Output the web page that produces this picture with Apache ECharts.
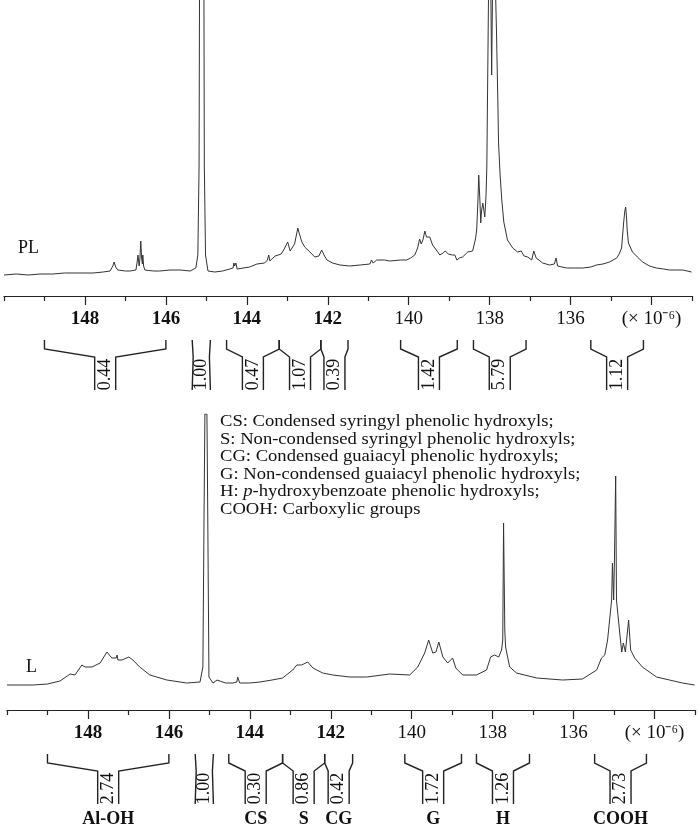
<!DOCTYPE html>
<html><head><meta charset="utf-8">
<script src="https://cdn.jsdelivr.net/npm/echarts@6/dist/echarts.min.js"></script>
<style>html,body{margin:0;padding:0;background:#fff}#c{width:700px;height:833px}</style>
</head><body><div id="c"></div>
<script>
// ---- data (chemical shift in ppm, intensity in arbitrary units) ----
const topSpectrum = [
[150.00,21],[149.70,22],[149.40,21],[149.11,22],[148.80,22],[148.50,23],[148.12,23],[147.80,23],[147.55,24],
[147.38,25],[147.31,30],[147.28,34],[147.24,29],[147.19,26],[147.00,25],[146.89,25],[146.74,26],[146.71,34],
[146.69,41],[146.66,30],[146.64,38],[146.62,55],[146.60,38],[146.58,32],[146.57,41],[146.55,30],[146.52,26],
[146.30,25],[146.15,25],[145.90,26],[145.65,26],[145.40,25],[145.26,28],[145.21,41],[145.18,130],[145.11,1200],
[145.05,130],[145.02,41],[144.96,25],[144.79,24],[144.60,25],[144.42,27],[144.34,28],[144.32,33],[144.30,30],
[144.27,33],[144.24,27],[144.20,26],[143.93,29],[143.75,32],[143.56,33],[143.49,36],[143.46,41],[143.43,35],
[143.38,37],[143.30,40],[143.26,39],[143.15,42],[143.09,46],[142.99,54],[142.93,45],[142.89,43],[142.82,52],
[142.77,62],[142.74,68],[142.70,62],[142.64,54],[142.57,49],[142.44,44],[142.32,39],[142.22,40],[142.15,46],
[142.12,48],[142.08,40],[142.02,36],[141.88,33],[141.70,31],[141.46,30],[141.20,31],[140.96,32],[140.92,36],
[140.88,33],[140.79,36],[140.60,36],[140.47,35],[140.20,36],[140.05,36],[139.95,38],[139.85,41],[139.78,48],
[139.73,57],[139.69,52],[139.65,56],[139.60,65],[139.56,59],[139.52,57],[139.48,59],[139.41,51],[139.30,45],
[139.23,41],[139.15,43],[139.10,45],[139.06,44],[139.02,42],[138.99,43],[138.92,41],[138.86,41],[138.81,36],
[138.75,38],[138.67,39],[138.54,44],[138.42,45],[138.35,57],[138.32,66],[138.29,95],[138.27,121],[138.24,95],
[138.22,73],[138.20,85],[138.17,93],[138.14,85],[138.12,79],[138.09,100],[138.07,129],[138.04,250],[138.00,420],
[137.97,300],[137.95,221],[137.93,300],[137.90,420],[137.87,330],[137.83,263],[137.80,200],[137.78,153],
[137.74,120],[137.70,96],[137.65,74],[137.56,56],[137.43,48],[137.31,44],[137.22,45],[137.19,45],[137.15,40],
[137.11,38],[137.06,39],[136.96,36],[136.91,45],[136.85,38],[136.81,37],[136.69,33],[136.52,31],[136.40,32],
[136.36,38],[136.35,39],[136.32,30],[136.30,29],[136.10,28],[135.90,28],[135.70,28],[135.50,29],[135.36,31],
[135.20,32],[135.04,34],[134.86,38],[134.80,42],[134.74,48],[134.69,73],[134.66,85],[134.64,89],[134.62,80],
[134.60,65],[134.57,53],[134.47,44],[134.35,39],[134.22,34],[134.05,30],[133.88,28],[133.70,27],[133.56,26],
[133.40,26],[133.23,26],[133.01,24]
];
const bottomSpectrum = [
[150.00,25],[149.70,25],[149.36,25],[149.00,26],[148.69,29],[148.44,36],[148.32,35],[148.15,45],[148.07,43],
[147.90,43],[147.70,47],[147.53,58],[147.41,52],[147.30,52],[147.28,55],[147.26,50],[147.16,50],[146.99,53],
[146.89,50],[146.72,43],[146.47,35],[146.05,30],[145.56,27],[145.23,28],[145.16,43],[145.13,200],[145.11,296],
[145.06,296],[145.04,200],[145.01,33],[144.91,27],[144.81,30],[144.60,27],[144.42,27],[144.32,28],[144.30,33],
[144.25,27],[144.00,27],[143.75,28],[143.45,30],[143.19,32],[142.94,40],[142.84,45],[142.72,45],[142.57,48],
[142.44,42],[142.20,37],[141.95,35],[141.53,33],[141.11,33],[140.54,36],[140.05,35],[139.85,43],[139.68,57],
[139.58,70],[139.48,57],[139.40,58],[139.33,68],[139.23,53],[139.11,47],[138.99,52],[138.91,42],[138.74,35],
[138.40,35],[138.15,40],[138.05,53],[137.95,55],[137.85,53],[137.78,60],[137.75,70],[137.73,187],[137.70,80],
[137.68,63],[137.58,43],[137.41,37],[136.91,32],[136.27,30],[135.78,31],[135.43,40],[135.31,52],[135.23,55],
[135.16,70],[135.06,110],[135.04,147],[135.01,110],[134.99,150],[134.96,234],[134.94,110],[134.86,77],
[134.81,58],[134.77,67],[134.72,58],[134.64,90],[134.59,60],[134.49,52],[134.30,43],[133.95,33],[133.63,30],
[133.31,27],[133.01,25]
];
const topRanges = [[149.0,146.0],[145.35,144.9],[144.5,143.2],[143.2,142.17],[142.17,141.5],[140.2,138.8],[138.4,137.1],[135.5,134.2]];
const topIntegrals = ['0.44','1.00','0.47','1.07','0.39','1.42','5.79','1.12'];
const bottomRanges = [[149.0,146.0],[145.35,144.9],[144.52,143.19],[143.19,142.15],[142.15,141.46],[140.17,138.77],[138.4,137.09],[135.48,134.2]];
const bottomIntegrals = ['2.74','1.00','0.30','0.86','0.42','1.72','1.26','2.73'];
const bottomGroups = ['Al-OH','','CS','S','CG','G','H','COOH'];
const majorTicks = [134,136,138,140,142,144,146,148];
const minorTicks = [133,135,137,139,141,143,145,147,149,150];
const unitLabel = '(× 10⁻⁶)';
const sampleNames = ['PL','L'];
const legendLines = [
  'CS: Condensed syringyl phenolic hydroxyls;',
  'S: Non-condensed syringyl phenolic hydroxyls;',
  'CG: Condensed guaiacyl phenolic hydroxyls;',
  'G: Non-condensed guaiacyl phenolic hydroxyls;',
  'H: {i|p}-hydroxybenzoate phenolic hydroxyls;',
  'COOH: Carboxylic groups'
];

// ---- chart ----
const SERIF = '"Liberation Serif","Times New Roman",serif';
const INK = '#222';
const chart = echarts.init(document.getElementById('c'), null, {renderer:'canvas'});

function mainAxis(gi){
  return {type:'value', gridIndex:gi, min:133, max:150, inverse:true,
    axisLine:{show:true, onZero:false, lineStyle:{color:INK, width:1.2}},
    axisTick:{show:true, inside:false, length:9, customValues:majorTicks, lineStyle:{color:INK, width:1.2}},
    axisLabel:{show:true, margin:14, customValues:majorTicks,
      formatter:v => v===134 ? '{n|'+unitLabel+'}' : (v>=142 ? '{b|'+v+'}' : '{n|'+v+'}'),
      rich:{b:{fontFamily:SERIF, fontSize:19, fontWeight:'bold', color:'#111'},
            n:{fontFamily:SERIF, fontSize:19, color:'#111'}}},
    splitLine:{show:false}};
}
function minorAxis(gi){
  return {type:'value', gridIndex:gi, min:133, max:150, inverse:true, position:'bottom',
    axisLine:{show:false},
    axisTick:{show:true, length:5, customValues:minorTicks, lineStyle:{color:INK, width:1.2}},
    axisLabel:{show:false}, splitLine:{show:false}};
}
function yAxis(gi){
  return {type:'value', gridIndex:gi, min:0, max:296, show:false};
}
function bracketSeries(xi, ranges, integrals, groups){
  return {
    type:'custom', xAxisIndex:xi, yAxisIndex:xi<2?0:1, clip:false, silent:true,
    encode:{x:[0,1], y:2},
    data: ranges.map(r => [r[0], r[1], 0]),
    renderItem: function(params, api){
      const i = params.dataIndex;
      const pL = api.coord([api.value(0), 0]);
      const pR = api.coord([api.value(1), 0]);
      const xL = pL[0], xR = pR[0], y0 = pL[1];
      const cx = (xL + xR) / 2;
      const yA = y0 + 44, yB = y0 + 53, yS = y0 + 61, yE = y0 + 94;
      const ls = {stroke:INK, lineWidth:1.4, fill:null};
      const ch = [];
      if (xR - xL < 25) {
        ch.push({type:'polyline', shape:{points:[[xL,yA],[xL+1,yS],[xL,yE]]}, style:ls});
        ch.push({type:'polyline', shape:{points:[[xR,yA],[xR-1,yS],[xR,yE]]}, style:ls});
      } else {
        const sL = cx - 10.5, sR = cx + 10.5;
        ch.push({type:'polyline', shape:{points:[[xL,yA],[xL,yB],[sL,yS],[sL,yE]]}, style:ls});
        ch.push({type:'polyline', shape:{points:[[xR,yA],[xR,yB],[sR,yS],[sR,yE]]}, style:ls});
      }
      ch.push({type:'text', x:cx, y:(yS+yE)/2 + 1, rotation:Math.PI/2,
        style:{text:integrals[i], fontFamily:SERIF, fontSize:18, fill:'#111', align:'center', verticalAlign:'middle'}});
      if (groups && groups[i]) {
        ch.push({type:'text', x:cx, y:y0 + 109,
          style:{text:groups[i], fontFamily:SERIF, fontSize:18, fontWeight:'bold', fill:'#111', align:'center', verticalAlign:'middle'}});
      }
      return {type:'group', children:ch};
    }
  };
}

const option = {
  animation:false,
  backgroundColor:'#fff',
  grid:[{left:4, top:0, width:688, height:296}, {left:7, top:414, width:688, height:296}],
  xAxis:[mainAxis(0), minorAxis(0), mainAxis(1), minorAxis(1)],
  yAxis:[yAxis(0), yAxis(1)],
  series:[
    {type:'line', xAxisIndex:0, yAxisIndex:0, data:topSpectrum, showSymbol:false, clip:true,
     lineStyle:{color:'#333', width:1}},
    {type:'line', xAxisIndex:2, yAxisIndex:1, data:bottomSpectrum, showSymbol:false, clip:true,
     lineStyle:{color:'#333', width:1}},
    bracketSeries(0, topRanges, topIntegrals, null),
    bracketSeries(2, bottomRanges, bottomIntegrals, bottomGroups)
  ],
  graphic:[
    {type:'text', x:18, y:239, style:{text:sampleNames[0], fontFamily:SERIF, fontSize:18, fill:'#111'}},
    {type:'text', x:26, y:658, style:{text:sampleNames[1], fontFamily:SERIF, fontSize:18, fill:'#111'}},
    {type:'text', x:220, y:413, scaleY:0.86, style:{text:legendLines.join('\n'), fontFamily:SERIF, fontSize:18.6,
      lineHeight:20.4, fill:'#111', rich:{i:{fontFamily:SERIF, fontSize:18.6, fontStyle:'italic', fill:'#111', lineHeight:20.4}}}}
  ]
};
chart.setOption(option);
</script></body></html>
